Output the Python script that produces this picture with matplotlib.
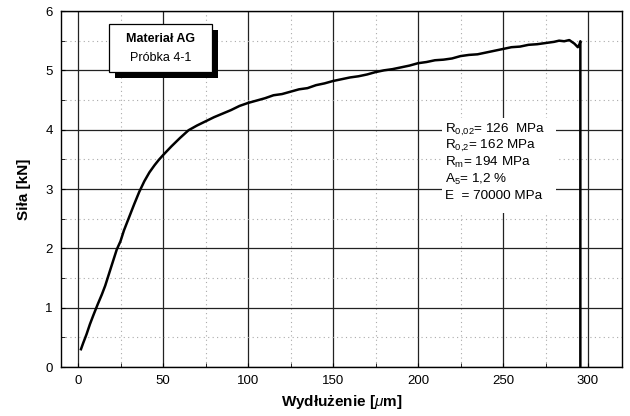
import matplotlib
matplotlib.use("Agg")
import matplotlib.pyplot as plt
from matplotlib.patches import Rectangle

# dane
wydl = [1.75, 3, 5, 7, 9, 11.5, 14, 16, 18, 20, 22.8, 25, 27, 30, 33, 36, 39, 42, 45, 47.5,
        50, 55, 60, 65, 70, 75, 80, 85, 90, 95, 100, 105, 110, 115, 120, 125, 130, 135, 140, 145,
        150, 155, 160, 165, 170, 175, 180, 185, 190, 195, 200, 205, 210, 215, 220, 225, 230, 235,
        240, 245, 250, 255, 260, 265, 270, 275, 280, 283, 286, 289, 292, 294, 295, 295.5, 295.5]
sila = [0.30, 0.40, 0.55, 0.72, 0.87, 1.05, 1.22, 1.37, 1.55, 1.73, 1.98, 2.12, 2.30, 2.52, 2.74,
        2.95, 3.13, 3.28, 3.40, 3.49, 3.57, 3.72, 3.86, 3.99, 4.07, 4.14, 4.21, 4.27, 4.33, 4.40,
        4.45, 4.49, 4.53, 4.58, 4.60, 4.64, 4.68, 4.70, 4.75, 4.78, 4.82, 4.85, 4.88, 4.90, 4.93,
        4.97, 5.00, 5.02, 5.05, 5.08, 5.12, 5.14, 5.17, 5.18, 5.20, 5.24, 5.26, 5.27, 5.30, 5.33,
        5.36, 5.39, 5.40, 5.43, 5.44, 5.46, 5.48, 5.50, 5.49, 5.51, 5.45, 5.39, 5.44, 5.49, 0.0]

tytul = ["Materiał AG", "Próbka 4-1"]
parametry = [r"R$_{\mathrm{0{,}02}}$= 126  MPa",
             r"R$_{\mathrm{0{,}2}}$= 162 MPa",
             r"R$_{\mathrm{m}}$= 194 MPa",
             r"A$_{\mathrm{5}}$= 1,2 %",
             r"E  = 70000 MPa"]

plt.rcParams['font.family'] = ['Liberation Sans', 'DejaVu Sans']
plt.rcParams['mathtext.fontset'] = 'custom'
plt.rcParams['mathtext.rm'] = 'Liberation Sans'
plt.rcParams['mathtext.it'] = 'Liberation Sans:italic'

fig = plt.figure(figsize=(6.3, 4.16), dpi=100)
ax = fig.add_axes([61/630, 49/416, 561/630, 356/416])

ax.set_xlim(-10, 320)
ax.set_ylim(0, 6)
ax.set_xticks([0, 50, 100, 150, 200, 250, 300])
ax.set_xticks([25, 75, 125, 175, 225, 275], minor=True)
ax.set_yticks([0, 1, 2, 3, 4, 5, 6])
ax.set_yticks([0.5, 1.5, 2.5, 3.5, 4.5, 5.5], minor=True)
ax.grid(which='major', color='#222222', lw=0.9, zorder=1)
ax.grid(which='minor', color='#aaaaaa', lw=0.8, ls=(0, (1, 3)), zorder=1)
ax.tick_params(which='both', direction='in', length=3, labelsize=9.5, color='black')
ax.tick_params(which='major', pad=6)
for s in ax.spines.values():
    s.set_linewidth(1.0)

ax.plot(wydl, sila, color='black', lw=1.8, zorder=4)

# ramka z tytulem
ax.add_patch(Rectangle((21.5, 4.87), 61, 0.81, facecolor='black', edgecolor='none', zorder=5))
ax.add_patch(Rectangle((18.1, 4.97), 61, 0.81, facecolor='white', edgecolor='black', lw=0.9, zorder=6))
ax.text(48.6, 5.53, tytul[0], ha='center', va='center', fontsize=9, fontweight='bold', zorder=7)
ax.text(48.6, 5.2, tytul[1], ha='center', va='center', fontsize=9, zorder=7)

# tabelka z parametrami
ax.add_patch(Rectangle((214, 2.6), 67, 1.6, facecolor='white', edgecolor='none', zorder=3))
ys = [4.0, 3.72, 3.44, 3.16, 2.88]
for y, t in zip(ys, parametry):
    ax.text(216, y, t, ha='left', va='center', fontsize=9.7, zorder=4)

ax.set_xlabel(r"Wydłużenie [$\mu$m]", fontsize=11, fontweight='bold', labelpad=4)
ax.set_ylabel("Siła [kN]", fontsize=11, fontweight='bold', labelpad=10)

fig.savefig("out.png", dpi=100)
